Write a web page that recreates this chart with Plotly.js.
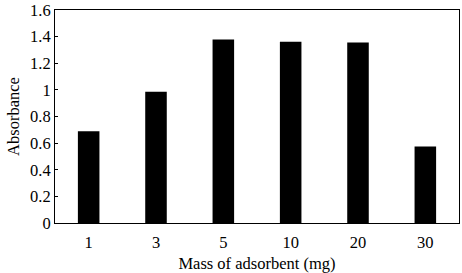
<!DOCTYPE html>
<html>
<head>
<meta charset="utf-8">
<script src="https://cdn.plot.ly/plotly-3.0.1.min.js"></script>
<style>html,body{margin:0;padding:0;background:#fff;}#chart{width:462px;height:273px;}</style>
</head>
<body>
<div id="chart"></div>
<script>
const categories = ["1", "3", "5", "10", "20", "30"];
const absorbance = [0.69, 0.985, 1.378, 1.362, 1.355, 0.575];
const yTicks = [0, 0.2, 0.4, 0.6, 0.8, 1, 1.2, 1.4, 1.6];
const yTickLabels = ["0", "0.2", "0.4", "0.6", "0.8", "1", "1.2", "1.4", "1.6"];

const fontFamily = "'Liberation Serif', 'Times New Roman', serif";
const fs = 16.5;

Plotly.newPlot("chart", [{
  type: "bar",
  x: categories,
  y: absorbance,
  marker: {color: "#000000", line: {width: 0}},
  hoverinfo: "none"
}], {
  width: 462, height: 273,
  margin: {l: 55, r: 3, t: 10, b: 50},
  paper_bgcolor: "#ffffff",
  plot_bgcolor: "#ffffff",
  bargap: 0.68,
  showlegend: false,
  font: {family: fontFamily, color: "#000", size: fs},
  xaxis: {
    type: "category",
    showline: true, linecolor: "#000", linewidth: 1, mirror: true,
    ticks: "", showgrid: false, zeroline: false,
    ticklabelstandoff: 4,
    tickfont: {family: fontFamily, size: fs, color: "#000"},
    title: {text: "Mass of adsorbent (mg)", font: {family: fontFamily, size: fs, color: "#000"}, standoff: 8}
  },
  yaxis: {
    range: [0, 1.6],
    tickvals: yTicks, ticktext: yTickLabels,
    ticklabeloverflow: "allow",
    showline: true, linecolor: "#000", linewidth: 1, mirror: true,
    ticks: "inside", ticklen: 3, tickcolor: "#000",
    showgrid: false, zeroline: false,
    tickfont: {family: fontFamily, size: fs, color: "#000"},
    title: {text: "Absorbance", font: {family: fontFamily, size: fs, color: "#000"}, standoff: 6}
  }
}, {displayModeBar: false, staticPlot: true});
</script>
</body>
</html>
